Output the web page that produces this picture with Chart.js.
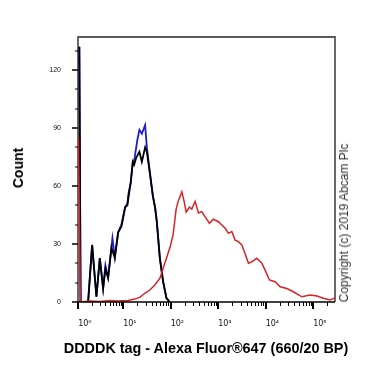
<!DOCTYPE html>
<html>
<head>
<meta charset="utf-8">
<script src="https://cdn.jsdelivr.net/npm/chart.js@4.4.1/dist/chart.umd.min.js"></script>
<style>
  html, body { margin: 0; padding: 0; background: #fff; }
  #wrap { position: relative; width: 373px; height: 373px; font-family: "Liberation Sans", Arial, sans-serif; }
  #chart { position: absolute; left: 0; top: 0; }
  .ytitle { position: absolute; left: 18px; top: 168px; transform: translate(-50%, -50%) rotate(-90deg); font-weight: bold; font-size: 14px; white-space: nowrap; }
  .xtitle { position: absolute; left: 206px; top: 348px; transform: translate(-50%, -50%); font-weight: bold; font-size: 14.4px; white-space: nowrap; }
  .copy { position: absolute; left: 344px; top: 223px; transform: translate(-50%, -50%) rotate(-90deg); font-size: 12px; color: #333; white-space: nowrap; }
</style>
</head>
<body>
<div id="wrap">
  <canvas id="chart" width="373" height="373"></canvas>
  <div class="ytitle">Count</div>
  <div class="xtitle">DDDDK tag - Alexa Fluor®647 (660/20 BP)</div>
  <div class="copy">Copyright (c) 2019 Abcam Plc</div>
</div>
<script>
// x values are display positions in decades (10^1 = 1, 10^2 = 2, ...)
const xMin = 0.05;
const xMax = 5.46;
const decadeTicks = [0.053, 1, 2, 3, 4, 5];
const decadeLabels = ["10⁰", "10¹", "10²", "10³", "10⁴", "10⁵"];
const yTicks = [0, 30, 60, 90, 120];

const blackX = [0.078, 0.105, 0.263, 0.347, 0.438, 0.509, 0.579, 0.627, 0.684, 0.754, 0.825, 0.895, 0.964, 1.042, 1.09, 1.112, 1.16, 1.204, 1.232, 1.274, 1.343, 1.394, 1.463, 1.499, 1.568, 1.625, 1.674, 1.709, 1.773, 1.842, 1.912, 1.983];
const blackY = [132, 0, 0, 29.5, 2.7, 22.7, 7, 17, 12.5, 28, 23, 36, 39, 49, 50, 54, 62, 72.5, 71, 74.5, 77.7, 72.5, 80, 77.7, 65.7, 55, 48.6, 41.5, 22.7, 10.5, 2, 0];

const blueX = [0.078, 0.105, 0.263, 0.347, 0.438, 0.509, 0.579, 0.627, 0.684, 0.775, 0.825, 0.895, 0.964, 1.042, 1.09, 1.112, 1.16, 1.204, 1.232, 1.301, 1.343, 1.394, 1.463, 1.499, 1.568, 1.625, 1.674, 1.709, 1.773, 1.842, 1.912, 1.983];
const blueY = [132, 0, 0, 29.5, 2.7, 22.7, 7, 19, 12.5, 33, 23, 36, 40, 49, 51, 56, 61.5, 72.5, 73, 84, 89, 87, 91.5, 80, 66, 55, 48.6, 41.5, 22.7, 10.5, 2, 0];

const redX = [0.058, 0.1, 0.305, 0.516, 0.726, 0.895, 1.105, 1.246, 1.358, 1.457, 1.562, 1.667, 1.773, 1.842, 1.912, 1.983, 2.025, 2.053, 2.116, 2.158, 2.236, 2.284, 2.326, 2.396, 2.446, 2.516, 2.585, 2.657, 2.726, 2.817, 2.901, 3.006, 3.078, 3.147, 3.217, 3.288, 3.358, 3.427, 3.499, 3.568, 3.638, 3.709, 3.815, 3.92, 3.989, 4.08, 4.2, 4.305, 4.446, 4.585, 4.762, 4.937, 5.078, 5.217, 5.358, 5.46];
const redY = [85, 0, 0.5, 0.3, 0.8, 0.5, 0.8, 1.5, 2.5, 4.5, 6.2, 8.8, 12.2, 17.4, 22.6, 28, 32, 35, 48, 52, 57, 52, 46.5, 49, 48, 52, 46, 46.7, 44, 40.7, 42.8, 41.5, 39.8, 38.1, 35.5, 36.4, 32, 31.2, 29.5, 25, 20, 20.8, 22.6, 20, 16.5, 11.4, 10.5, 7.9, 7, 5.3, 2.7, 3.6, 3.1, 1.9, 1, 2.2];

const toPoints = (xs, ys) => xs.map((x, i) => ({ x, y: ys[i] }));

function minorXTicks() {
  const out = [];
  for (let k = 2; k <= 9; k++) out.push(0.053 + Math.log10(k) * 0.947);
  for (let d = 1; d <= 5; d++) {
    for (let k = 2; k <= 9; k++) {
      const v = d + Math.log10(k);
      if (v < xMax) out.push(v);
    }
  }
  return out;
}

const axisPlugin = {
  id: "axisMarks",
  beforeDatasetsDraw(chart) {
    const { ctx, chartArea: a } = chart;
    ctx.save();
    ctx.strokeStyle = "#5a5a5a";
    ctx.lineWidth = 1.8;
    ctx.beginPath();
    ctx.moveTo(a.left, a.bottom);
    ctx.lineTo(a.left, a.top);
    ctx.lineTo(a.right, a.top);
    ctx.lineTo(a.right, a.bottom);
    ctx.stroke();
    ctx.restore();
  },
  afterDatasetsDraw(chart) {
    const { ctx, chartArea: a, scales } = chart;
    const xs = scales.x;
    const ys = scales.y;
    ctx.save();
    ctx.strokeStyle = "#000";
    ctx.lineWidth = 1.6;
    ctx.beginPath();
    ctx.moveTo(a.left - 1, a.bottom);
    ctx.lineTo(a.right, a.bottom);
    ctx.stroke();

    // x ticks
    ctx.lineWidth = 1;
    minorXTicks().forEach((v) => {
      const px = Math.round(xs.getPixelForValue(v)) + 0.5;
      ctx.beginPath();
      ctx.moveTo(px, a.bottom);
      ctx.lineTo(px, a.bottom + 4);
      ctx.stroke();
    });
    ctx.lineWidth = 2;
    decadeTicks.forEach((v) => {
      const px = Math.round(xs.getPixelForValue(v));
      ctx.beginPath();
      ctx.moveTo(px, a.bottom);
      ctx.lineTo(px, a.bottom + 7);
      ctx.stroke();
    });

    // y ticks
    for (let v = 0; v <= 130; v += 10) {
      const py = Math.round(ys.getPixelForValue(v));
      const major = v % 30 === 0;
      ctx.lineWidth = major ? 1.5 : 1;
      ctx.beginPath();
      ctx.moveTo(a.left, py);
      ctx.lineTo(a.left - (major ? 6 : 3), py);
      ctx.stroke();
    }
    ctx.restore();
  },
};

new Chart(document.getElementById("chart"), {
  type: "line",
  data: {
    datasets: [
      {
        label: "blue",
        data: toPoints(blueX, blueY),
        borderColor: "#1c1cc8",
        borderWidth: 1.8,
        pointRadius: 0,
        tension: 0,
        order: 3,
      },
      {
        label: "black",
        data: toPoints(blackX, blackY),
        borderColor: "#000",
        borderWidth: 1.8,
        pointRadius: 0,
        tension: 0,
        order: 2,
      },
      {
        label: "red",
        data: toPoints(redX, redY),
        borderColor: "#d82424",
        borderWidth: 1.5,
        pointRadius: 0,
        tension: 0,
        order: 1,
      },
    ],
  },
  options: {
    responsive: false,
    animation: false,
    layout: { padding: { left: 0, top: 37, right: 38, bottom: 0 } },
    plugins: { legend: { display: false }, tooltip: { enabled: false } },
    scales: {
      x: {
        type: "linear",
        min: xMin,
        max: xMax,
        afterFit: (scale) => { scale.height = 71; },
        afterBuildTicks: (scale) => { scale.ticks = decadeTicks.map((v) => ({ value: v })); },
        grid: { display: false },
        border: { display: false },
        ticks: {
          autoSkip: false,
          maxRotation: 0,
          align: "start",
          padding: 9,
          color: "#111",
          font: { family: "DejaVu Sans", size: 8 },
          callback: (v) => decadeLabels[decadeTicks.indexOf(v)] || "",
        },
      },
      y: {
        min: 0,
        max: 137,
        afterFit: (scale) => { scale.width = 78; },
        afterBuildTicks: (scale) => { scale.ticks = yTicks.map((v) => ({ value: v })); },
        grid: { display: false },
        border: { display: false },
        ticks: {
          padding: 9,
          color: "#111",
          font: { family: "Liberation Sans", size: 7 },
        },
      },
    },
  },
  plugins: [axisPlugin],
});
</script>
</body>
</html>
